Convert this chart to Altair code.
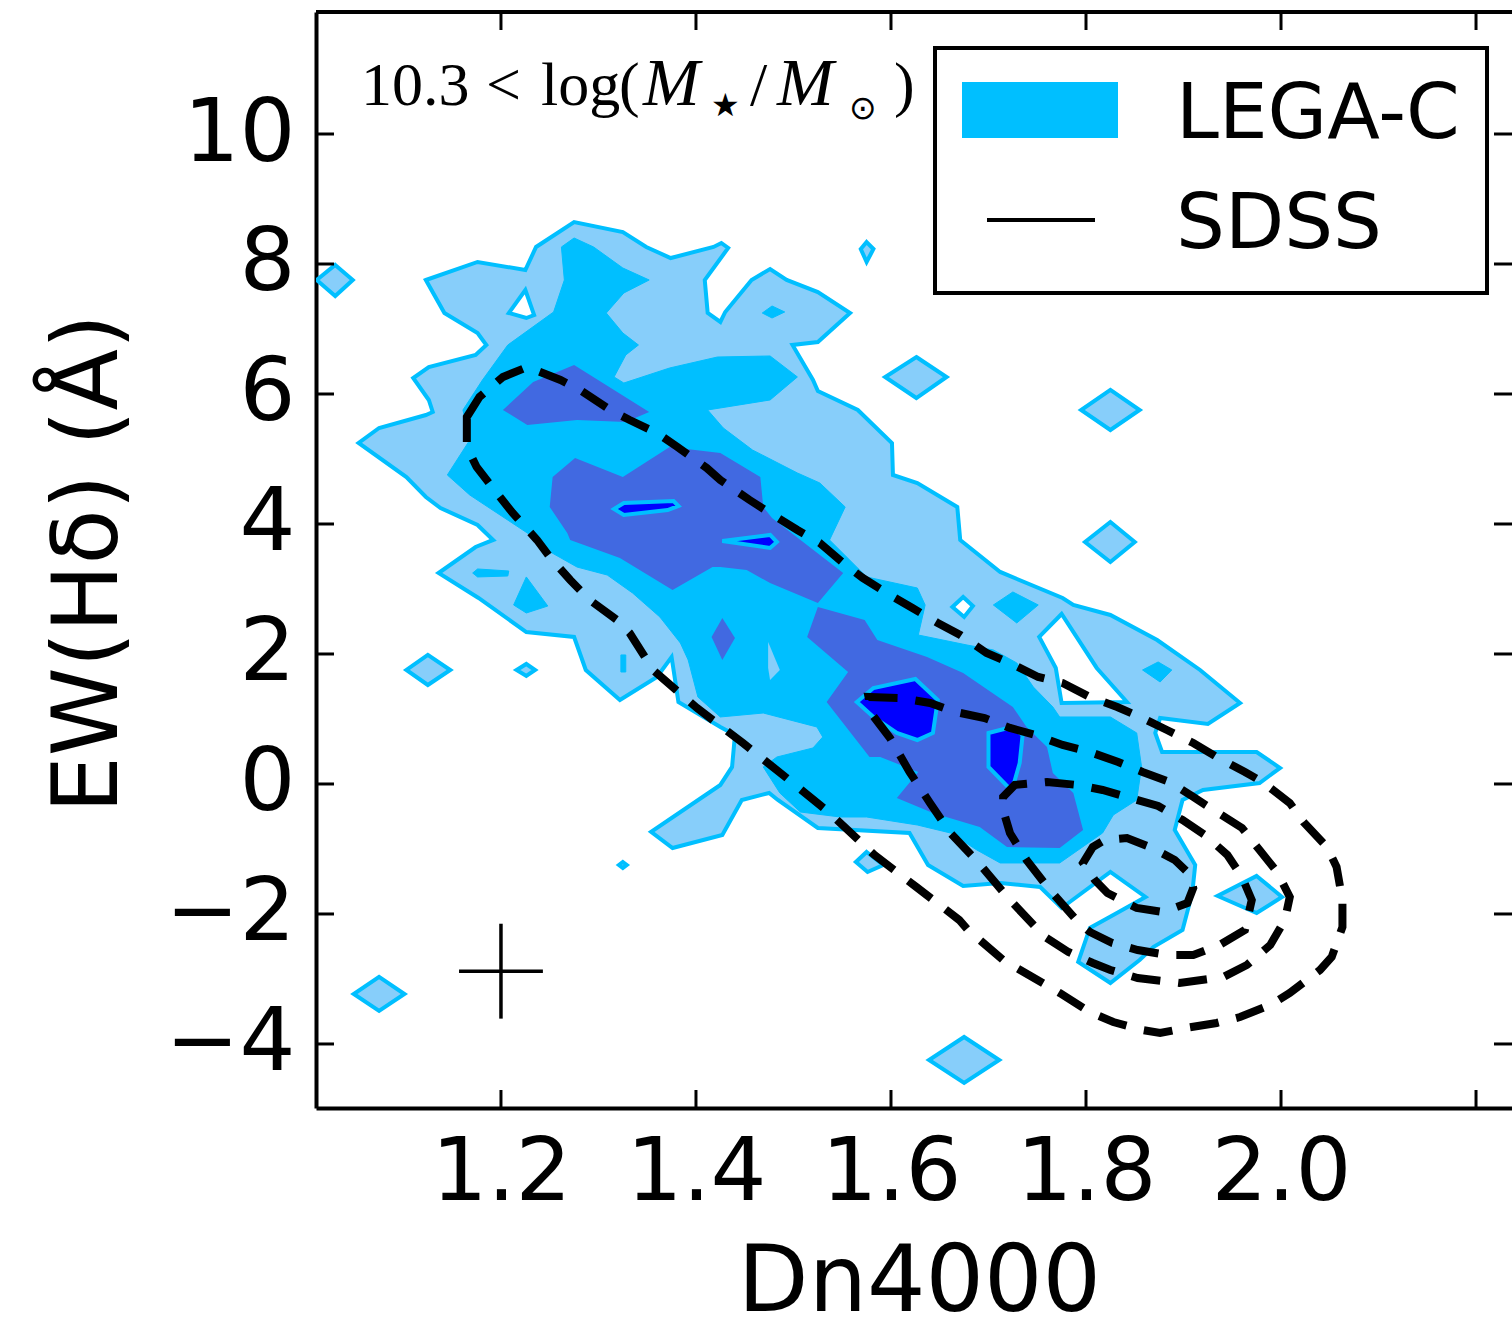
import altair as alt
import pandas as pd

# ------------------------------------------------------------------ data
X_TICKS = [1.2, 1.4, 1.6, 1.8, 2.0, 2.2]
X_LABELED = [1.2, 1.4, 1.6, 1.8, 2.0]
Y_TICKS = [-4, -2, 0, 2, 4, 6, 8, 10]
X_DOMAIN = [1.0103, 2.2369]
Y_DOMAIN = [-4.985, 11.877]

# LEGA-C filled density contours (outermost level -> innermost)
LEGAC_L1_MAIN = [(1.123,7.754),(1.176,8.031),(1.225,7.908),(1.236,8.262),(1.275,8.646),(1.325,8.492),(1.349,8.262),(1.374,8.092),(1.418,8.262),(1.426,8.323),(1.433,8.246),(1.409,7.754),(1.412,7.246),(1.425,7.108),(1.430,7.262),(1.457,7.754),(1.476,7.923),(1.493,7.754),(1.525,7.569),(1.558,7.246),(1.525,6.800),(1.499,6.754),(1.520,6.215),(1.525,6.046),(1.566,5.754),(1.601,5.246),(1.602,4.754),(1.627,4.631),(1.668,4.262),(1.671,3.754),(1.712,3.262),(1.776,2.862),(1.787,2.754),(1.825,2.600),(1.873,2.215),(1.917,1.754),(1.958,1.246),(1.925,0.923),(1.876,1.015),(1.871,0.785),(1.878,0.492),(1.975,0.492),(1.999,0.246),(1.978,0.015),(1.920,-0.092),(1.899,-0.246),(1.891,-0.708),(1.912,-1.246),(1.909,-1.677),(1.899,-2.246),(1.869,-2.508),(1.855,-2.708),(1.825,-3.062),(1.792,-2.738),(1.804,-2.215),(1.828,-2.015),(1.861,-1.738),(1.825,-1.354),(1.775,-1.908),(1.753,-1.585),(1.712,-1.523),(1.674,-1.569),(1.638,-1.246),(1.619,-0.754),(1.525,-0.677),(1.484,-0.246),(1.475,-0.138),(1.447,-0.246),(1.427,-0.785),(1.376,-0.985),(1.354,-0.738),(1.425,-0.015),(1.437,0.262),(1.440,0.754),(1.425,0.877),(1.382,1.262),(1.375,1.954),(1.360,1.646),(1.322,1.292),(1.287,1.754),(1.275,2.262),(1.226,2.338),(1.177,2.862),(1.136,3.246),(1.174,3.646),(1.192,3.754),(1.176,3.985),(1.138,4.246),(1.123,4.415),(1.103,4.723),(1.054,5.246),(1.075,5.477),(1.123,5.677),(1.130,5.723),(1.126,5.908),(1.110,6.246),(1.126,6.415),(1.174,6.600),(1.185,6.754),(1.176,6.938),(1.142,7.246)]

LEGAC_L1_ISLANDS = [
    [(1.030,7.985),(1.048,7.754),(1.030,7.508),(1.011,7.754)],
    [(1.575,8.338),(1.582,8.231),(1.575,8.031),(1.569,8.231)],
    [(1.626,6.569),(1.657,6.262),(1.626,5.938),(1.594,6.262)],
    [(1.825,6.062),(1.855,5.754),(1.825,5.446),(1.795,5.754)],
    [(1.825,4.031),(1.850,3.723),(1.825,3.415),(1.799,3.723)],
    [(1.125,1.985),(1.148,1.754),(1.125,1.523),(1.103,1.754)],
    [(1.226,1.846),(1.235,1.754),(1.226,1.662),(1.216,1.754)],
    [(1.575,-1.046),(1.592,-1.246),(1.576,-1.354),(1.564,-1.200)],
    [(1.075,-2.969),(1.101,-3.231),(1.075,-3.492),(1.049,-3.231)],
    [(1.675,-3.892),(1.711,-4.246),(1.675,-4.600),(1.639,-4.246)],
    [(1.975,-1.415),(2.001,-1.738),(1.975,-1.985),(1.935,-1.723)],
    [(1.325,-1.200),(1.329,-1.246),(1.325,-1.292),(1.321,-1.246)],
]

LEGAC_L1_HOLES = [
    [(1.225,7.600),(1.234,7.215),(1.226,7.169),(1.208,7.246)],
    [(1.775,2.615),(1.752,2.262),(1.769,1.785),(1.775,1.246),(1.842,1.262),(1.811,1.785)],
    [(1.674,2.877),(1.684,2.738),(1.675,2.569),(1.663,2.723)],
]

LEGAC_L2 = [
    [(1.262,8.262),(1.275,8.400),(1.295,8.262),(1.325,7.938),(1.352,7.754),(1.326,7.554),(1.308,7.246),(1.325,6.938),(1.341,6.754),(1.328,6.600),(1.316,6.262),(1.326,6.169),(1.373,6.400),(1.422,6.569),(1.476,6.585),(1.504,6.262),(1.476,5.908),(1.412,5.754),(1.428,5.477),(1.458,5.138),(1.504,4.785),(1.527,4.631),(1.553,4.262),(1.537,3.754),(1.575,3.185),(1.627,3.015),(1.635,2.754),(1.628,2.292),(1.678,2.138),(1.705,2.062),(1.729,1.862),(1.746,1.492),(1.766,1.185),(1.773,1.031),(1.825,1.031),(1.852,0.785),(1.857,0.262),(1.852,-0.246),(1.828,-0.477),(1.817,-0.754),(1.773,-1.215),(1.712,-1.215),(1.688,-1.015),(1.661,-0.754),(1.627,-0.631),(1.575,-0.508),(1.548,-0.508),(1.507,-0.431),(1.486,-0.138),(1.469,0.262),(1.483,0.415),(1.520,0.554),(1.530,0.723),(1.524,0.877),(1.469,1.092),(1.425,1.031),(1.402,1.338),(1.392,1.908),(1.384,2.169),(1.363,2.569),(1.335,2.938),(1.309,3.215),(1.278,3.338),(1.247,3.600),(1.227,3.862),(1.168,4.446),(1.145,4.754),(1.168,5.292),(1.161,5.754),(1.181,6.215),(1.207,6.754),(1.254,7.262),(1.265,7.754)],
    [(1.468,7.246),(1.478,7.354),(1.491,7.262),(1.478,7.169)],
    [(1.725,2.954),(1.751,2.754),(1.729,2.477),(1.705,2.754)],
    [(1.874,1.877),(1.888,1.754),(1.876,1.569),(1.858,1.754)],
    [(1.171,3.246),(1.176,3.308),(1.208,3.277),(1.207,3.200),(1.176,3.185)],
    [(1.226,3.185),(1.248,2.738),(1.226,2.631),(1.213,2.754)],
    [(1.323,1.985),(1.328,1.985),(1.328,1.723),(1.323,1.723)],
]

LEGAC_L2_HOLES = [
    [(1.474,2.185),(1.486,1.754),(1.476,1.600),(1.474,1.785)],
]

LEGAC_L3 = [
    [(1.275,6.446),(1.352,5.723),(1.328,5.569),(1.278,5.600),(1.227,5.523),(1.202,5.754),(1.233,6.185)],
    [(1.276,5.015),(1.325,4.723),(1.373,5.185),(1.425,5.092),(1.466,4.723),(1.469,4.262),(1.478,4.092),(1.551,3.246),(1.525,2.785),(1.476,3.092),(1.452,3.292),(1.425,3.338),(1.417,3.338),(1.376,2.985),(1.322,3.477),(1.271,3.754),(1.268,3.862),(1.250,4.262),(1.253,4.723)],
    [(1.525,2.723),(1.573,2.523),(1.586,2.215),(1.637,1.954),(1.674,1.708),(1.725,1.185),(1.739,0.877),(1.760,0.569),(1.766,0.169),(1.787,-0.138),(1.797,-0.708),(1.773,-0.985),(1.719,-0.969),(1.691,-0.662),(1.643,-0.446),(1.606,-0.215),(1.628,0.185),(1.589,0.415),(1.578,0.415),(1.534,1.262),(1.556,1.723),(1.514,2.262)],
    [(1.427,2.554),(1.440,2.246),(1.427,1.908),(1.416,2.262)],
]

LEGAC_L4 = [
    [(1.316,4.231),(1.326,4.323),(1.377,4.354),(1.382,4.277),(1.371,4.215),(1.326,4.138)],
    [(1.427,3.738),(1.476,3.831),(1.483,3.723),(1.476,3.631)],
    [(1.565,1.262),(1.582,1.477),(1.625,1.615),(1.648,1.292),(1.643,0.785),(1.627,0.677),(1.606,0.785),(1.582,1.031)],
    [(1.700,0.785),(1.724,0.877),(1.735,0.754),(1.732,0.323),(1.725,-0.046),(1.720,-0.046),(1.700,0.262)],
]

# SDSS density contours (dashed)
SDSS_A = [(1.165,5.646),(1.178,5.954),(1.202,6.262),(1.227,6.415),(1.261,6.215),(1.281,6.062),(1.312,5.754),(1.332,5.600),(1.360,5.400),(1.381,5.185),(1.411,4.862),(1.425,4.677),(1.455,4.369),(1.476,4.169),(1.504,3.908),(1.527,3.708),(1.551,3.400),(1.571,3.169),(1.599,2.908),(1.622,2.708),(1.648,2.477),(1.671,2.292),(1.698,2.015),(1.722,1.862),(1.751,1.646),(1.776,1.554),(1.804,1.338),(1.832,1.185),(1.858,1.015),(1.883,0.831),(1.910,0.631),(1.934,0.415),(1.963,0.185),(1.981,0.031),(2.009,-0.292),(2.023,-0.585),(2.047,-0.969),(2.057,-1.277),(2.063,-1.785),(2.063,-2.200),(2.052,-2.662),(2.040,-2.862),(2.009,-3.215),(1.989,-3.400),(1.958,-3.585),(1.934,-3.677),(1.902,-3.754),(1.876,-3.831),(1.858,-3.785),(1.828,-3.662),(1.804,-3.508),(1.773,-3.215),(1.715,-2.708),(1.679,-2.246),(1.670,-2.092),(1.626,-1.585),(1.583,-1.092),(1.537,-0.446),(1.493,0.092),(1.448,0.631),(1.401,1.169),(1.356,1.754),(1.332,2.323),(1.319,2.523),(1.291,2.831),(1.271,3.138),(1.250,3.492),(1.237,3.754),(1.212,4.169),(1.199,4.415),(1.175,4.877),(1.165,5.185)]
SDSS_B = [(1.577,1.338),(1.609,1.323),(1.640,1.246),(1.666,1.108),(1.696,1.015),(1.722,0.862),(1.748,0.754),(1.776,0.600),(1.804,0.492),(1.833,0.338),(1.858,0.185),(1.886,0.031),(1.910,-0.200),(1.934,-0.431),(1.960,-0.677),(1.978,-1.015),(1.996,-1.354),(2.009,-1.738),(2.004,-2.092),(1.989,-2.477),(1.965,-2.785),(1.941,-2.969),(1.896,-3.062),(1.853,-2.985),(1.825,-2.862),(1.807,-2.754),(1.782,-2.585),(1.758,-2.354),(1.722,-1.785),(1.689,-1.200),(1.661,-0.754),(1.640,-0.292),(1.619,0.185),(1.599,0.708),(1.581,1.062)]
SDSS_C = [(1.715,-0.200),(1.727,-0.015),(1.760,0.031),(1.791,-0.015),(1.817,-0.092),(1.845,-0.215),(1.874,-0.338),(1.899,-0.554),(1.922,-0.785),(1.945,-1.092),(1.960,-1.431),(1.970,-1.785),(1.963,-2.246),(1.937,-2.477),(1.910,-2.631),(1.883,-2.631),(1.853,-2.554),(1.827,-2.446),(1.804,-2.277),(1.792,-2.123),(1.763,-1.631),(1.739,-1.169),(1.722,-0.754),(1.715,-0.400)]
SDSS_D = [(1.797,-1.215),(1.807,-0.969),(1.819,-0.862),(1.842,-0.831),(1.868,-0.985),(1.891,-1.169),(1.907,-1.400),(1.910,-1.600),(1.904,-1.831),(1.879,-1.969),(1.852,-1.908),(1.822,-1.677),(1.809,-1.477)]

# typical error bar
ERR_X, ERR_Y = 1.2, -2.88
ERR_DX, ERR_DY = 0.043, 0.73

# ------------------------------------------------------------------ style
W, H = 1196, 1096
LIGHT, MID, DARK, DEEP = "#87CEFA", "#00BFFF", "#4169E1", "#0000FF"
FONT = "DejaVu Sans"

XS = alt.Scale(domain=X_DOMAIN, nice=False, zero=False)
YS = alt.Scale(domain=Y_DOMAIN, nice=False, zero=False)

XAX = alt.Axis(values=X_LABELED, format=".1f", ticks=False, tickSize=0, grid=False,
               labelFont=FONT, labelFontSize=88, labelColor="black", labelPadding=21,
               labelFlush=False, domainColor="black", domainWidth=4,
               title="Dn4000", titleFont=FONT, titleFontSize=92, titleFontWeight="normal",
               titleColor="black", titleX=603, titleY=202, titleBaseline="alphabetic",
               titleAlign="center")
YAX = alt.Axis(values=Y_TICKS, format="d", ticks=False, tickSize=0, grid=False,
               labelFont=FONT, labelFontSize=88, labelColor="black", labelPadding=21,
               labelFlush=False, domainColor="black", domainWidth=4,
               title="EW(Hδ) (Å)", titleFont=FONT, titleFontSize=90, titleFontWeight="normal",
               titleColor="black", titleX=-200, titleY=551, titleAngle=270,
               titleBaseline="alphabetic", titleAlign="center")


def poly_frame(polys):
    rows = []
    for pid, pts in enumerate(polys):
        for i, (x, y) in enumerate(pts):
            rows.append({"pid": pid, "i": i, "x": x, "y": y})
    return pd.DataFrame(rows)


def poly_layer(polys, fill, stroke=None, sw=0, dash=None):
    kw = dict(interpolate="linear-closed", clip=True)
    if fill is not None:
        kw["fill"] = fill
    if stroke is not None:
        kw["stroke"] = stroke
        kw["strokeWidth"] = sw
    else:
        kw["strokeOpacity"] = 0
    if dash is not None:
        kw["strokeDash"] = dash
        kw["strokeCap"] = "butt"
    return alt.Chart(poly_frame(polys)).mark_line(**kw).encode(
        x=alt.X("x:Q", scale=XS, axis=XAX),
        y=alt.Y("y:Q", scale=YS, axis=YAX),
        detail="pid:N",
        order="i:Q",
    )


layers = [
    poly_layer([LEGAC_L1_MAIN] + LEGAC_L1_ISLANDS, LIGHT, MID, 4),
    poly_layer(LEGAC_L1_HOLES, "white", MID, 4),
    poly_layer(LEGAC_L2, MID, MID, 1),
    poly_layer(LEGAC_L2_HOLES, LIGHT),
    poly_layer(LEGAC_L3, DARK),
    poly_layer(LEGAC_L4, DEEP, MID, 4),
    poly_layer([SDSS_A, SDSS_B, SDSS_C, SDSS_D], None, "black", 8, dash=[29, 18]),
]

# error cross
err = pd.DataFrame({"x": [ERR_X], "y": [ERR_Y], "x1": [ERR_X - ERR_DX], "x2": [ERR_X + ERR_DX],
                    "y1": [ERR_Y - ERR_DY], "y2": [ERR_Y + ERR_DY]})
layers.append(alt.Chart(err).mark_rule(color="black", strokeWidth=3.5).encode(
    x=alt.X("x:Q", scale=XS, axis=XAX), y=alt.Y("y1:Q", scale=YS, axis=YAX), y2="y2:Q"))
layers.append(alt.Chart(err).mark_rule(color="black", strokeWidth=3.5).encode(
    x=alt.X("x1:Q", scale=XS, axis=XAX), x2="x2:Q", y=alt.Y("y:Q", scale=YS, axis=YAX)))

# inward ticks on all four sides
TL = 18
xt = pd.DataFrame({"v": X_TICKS})
yt = pd.DataFrame({"v": Y_TICKS})
layers.append(alt.Chart(xt).mark_rule(color="black", strokeWidth=3).encode(
    x=alt.X("v:Q", scale=XS, axis=XAX), y=alt.value(H - TL), y2=alt.value(H)))
layers.append(alt.Chart(xt).mark_rule(color="black", strokeWidth=3).encode(
    x=alt.X("v:Q", scale=XS, axis=XAX), y=alt.value(0), y2=alt.value(TL)))
layers.append(alt.Chart(yt).mark_rule(color="black", strokeWidth=3).encode(
    y=alt.Y("v:Q", scale=YS, axis=YAX), x=alt.value(0), x2=alt.value(TL)))
layers.append(alt.Chart(yt).mark_rule(color="black", strokeWidth=3).encode(
    y=alt.Y("v:Q", scale=YS, axis=YAX), x=alt.value(W - TL), x2=alt.value(W)))

one = pd.DataFrame({"a": [0]})
# top spine
layers.append(alt.Chart(one).mark_rule(color="black", strokeWidth=4).encode(
    x=alt.value(0), x2=alt.value(W), y=alt.value(0)))

# legend (hand-built, matplotlib style)
OX, OY = 316, 12
layers.append(alt.Chart(one).mark_rect(fill="white", stroke="black", strokeWidth=4).encode(
    x=alt.value(935 - OX), x2=alt.value(1487 - OX), y=alt.value(48 - OY), y2=alt.value(293 - OY)))
layers.append(alt.Chart(one).mark_rect(fill=MID).encode(
    x=alt.value(962 - OX), x2=alt.value(1118 - OX), y=alt.value(82 - OY), y2=alt.value(138 - OY)))
layers.append(alt.Chart(one).mark_rule(color="black", strokeWidth=4).encode(
    x=alt.value(987 - OX), x2=alt.value(1095 - OX), y=alt.value(220 - OY)))
for label, bx, by in [("LEGA-C", 1176, 138), ("SDSS", 1176, 248)]:
    layers.append(alt.Chart(pd.DataFrame({"t": [label]})).mark_text(
        font=FONT, fontSize=77, align="left", baseline="alphabetic", color="black").encode(
        text="t:N", x=alt.value(bx - OX), y=alt.value(by - OY)))

# mass-bin annotation, typeset piecewise
ANNOT = [
    ("10.3", 361, 105, "Liberation Serif", 62, "normal"),
    ("<", 486, 105, "Liberation Serif", 62, "normal"),
    ("log", 541, 105, "Liberation Serif", 62, "normal"),
    ("(", 619, 105, "Liberation Serif", 62, "normal"),
    ("M", 643, 105, "Liberation Serif", 68, "italic"),
    ("★", 711, 116, "DejaVu Sans", 32, "normal"),
    ("/", 750, 105, "Liberation Serif", 62, "normal"),
    ("M", 777, 105, "Liberation Serif", 68, "italic"),
    ("⊙", 849, 119, "DejaVu Sans", 33, "normal"),
    (")", 894, 105, "Liberation Serif", 62, "normal"),
]
for t, ax, ay, f, s, st in ANNOT:
    layers.append(alt.Chart(pd.DataFrame({"t": [t]})).mark_text(
        font=f, fontSize=s, fontStyle=st, align="left", baseline="alphabetic", color="black").encode(
        text="t:N", x=alt.value(ax - OX), y=alt.value(ay - OY)))

chart = alt.layer(*layers).properties(
    width=W, height=H,
    padding={"left": 316, "top": 12, "right": 0, "bottom": 212},
    autosize=alt.AutoSizeParams(type="none"),
    background="white",
).configure_view(stroke=None)

chart.save("out.html", embed_options={"renderer": "svg", "actions": False})
